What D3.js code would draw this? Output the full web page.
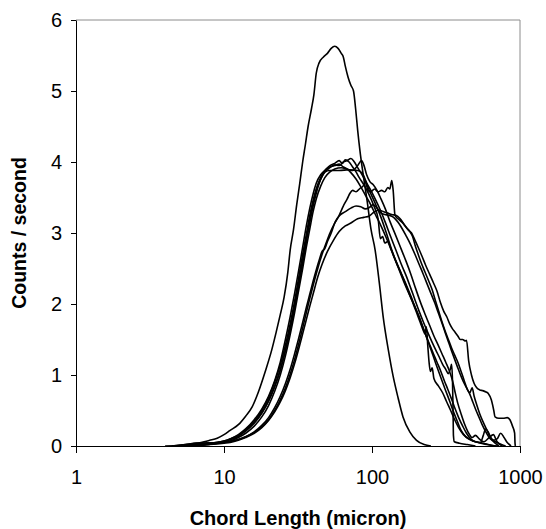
<!DOCTYPE html>
<html>
<head>
<meta charset="utf-8">
<script src="https://cdn.jsdelivr.net/npm/d3@7"></script>
<style>
  body { margin: 0; background: #fff; }
  svg { display: block; font-family: "Liberation Sans", Arial, sans-serif; }
</style>
</head>
<body>
<div id="chart"></div>
<script>
// chord length (micron), counts / second
const run1 = [[4,0],[5,0.01],[6,0.03],[7,0.05],[8,0.08],[9,0.11],[10,0.16],[11,0.22],[12.5,0.3],[14,0.42],[15.5,0.55],[17,0.75],[19,1.05],[21,1.35],[22.5,1.6],[24,1.85],[25.5,2.1],[27,2.45],[28,2.76],[29.5,3.05],[31,3.4],[32.5,3.7],[34,4.0],[35.5,4.25],[37,4.5],[39,4.75],[40.5,4.95],[42,5.25],[44,5.4],[47,5.48],[50,5.53],[53,5.6],[56,5.63],[59,5.6],[62,5.53],[64,5.48],[66,5.35],[69,5.19],[72,5.08],[75,5.0],[77.5,4.75],[80,4.45],[83,4.15],[86,3.91],[93,3.43],[98.5,3.05],[105,2.76],[112,2.3],[119,1.82],[129,1.35],[139,0.98],[150,0.68],[162,0.41],[180,0.2],[200,0.08],[225,0.02],[250,0]];

const run2 = [[5,0],[6,0.02],[7,0.03],[8,0.04],[9,0.05],[10,0.06],[11,0.09],[12.5,0.14],[14,0.22],[16,0.33],[18,0.47],[20,0.64],[22,0.84],[24,1.07],[26,1.35],[28,1.65],[30,1.95],[32,2.27],[34,2.58],[36,2.88],[38,3.15],[40,3.38],[42,3.56],[44,3.7],[46,3.8],[48,3.86],[52,3.88],[60,3.88],[70,3.89],[80,3.88],[86,3.84],[95,3.62],[105,3.42],[115,3.22],[125,3.0],[135,2.78],[150,2.52],[165,2.3],[180,2.12],[198,1.93],[215,1.74],[232,1.55],[250,1.36],[270,1.16],[290,0.98],[312,0.8],[335,0.63],[357,0.47],[380,0.33],[400,0.22],[430,0.13],[480,0.07],[560,0.04],[640,0.01],[720,0]];

const run3 = [[4.5,0],[5.5,0.02],[6.5,0.04],[7.5,0.04],[9,0.05],[10,0.07],[11,0.1],[12.5,0.16],[14,0.24],[16,0.37],[18,0.52],[20,0.7],[22,0.92],[24,1.18],[26,1.5],[28,1.82],[30,2.15],[32,2.48],[34,2.8],[36,3.1],[38,3.35],[40,3.55],[42,3.7],[45,3.82],[48,3.88],[52,3.95],[56,3.98],[60,4.02],[63,3.98],[66,4.03],[70,4.0],[74,3.93],[78,3.86],[82,3.78],[88,3.68],[95,3.55],[103,3.38],[110,3.2],[114,2.92],[118,2.95],[122,2.86],[128,2.88],[134,2.78],[142,2.64],[155,2.46],[167,2.3],[178,2.15],[190,2.0],[200,1.88],[210,1.76],[220,1.65],[228,1.58],[233,1.68],[238,1.42],[243,1.18],[248,1.05],[255,1.1],[262,0.95],[280,0.85],[300,0.75],[320,0.62],[340,0.5],[360,0.38],[385,0.26],[415,0.16],[460,0.09],[520,0.05],[600,0.02],[670,0]];

const run4 = [[5,0],[6,0.02],[7,0.03],[8,0.04],[9,0.05],[10,0.06],[11,0.09],[12.5,0.14],[14,0.21],[16,0.32],[18,0.46],[20,0.63],[22,0.84],[24,1.07],[26,1.35],[28,1.65],[30,1.97],[32,2.3],[34,2.62],[36,2.92],[38,3.2],[40,3.42],[42,3.6],[45,3.76],[48,3.86],[52,3.92],[56,3.96],[60,3.95],[64,4.0],[68,4.02],[72,4.05],[76,4.0],[80,3.92],[84,3.85],[90,3.74],[97,3.62],[105,3.48],[114,3.32],[123,3.15],[133,2.96],[145,2.76],[157,2.57],[170,2.4],[183,2.22],[195,2.06],[208,1.9],[222,1.75],[238,1.6],[255,1.46],[270,1.35],[285,1.25],[300,1.15],[315,1.08],[328,1.02],[338,1.08],[345,1.15],[350,0.9],[353,0.5],[355,0.15],[360,0.06],[390,0.04],[440,0.02],[500,0]];

const run5 = [[5,0],[6,0.01],[7,0.02],[8,0.03],[9,0.04],[10,0.05],[11,0.07],[12.5,0.12],[14,0.18],[16,0.28],[18,0.41],[20,0.57],[22,0.77],[24,1.0],[26,1.27],[28,1.57],[30,1.88],[32,2.2],[34,2.5],[36,2.8],[38,3.06],[40,3.3],[42,3.48],[45,3.66],[48,3.78],[52,3.86],[56,3.9],[62,3.92],[68,3.9],[74,3.88],[80,3.95],[85,4.02],[88,3.96],[92,3.82],[97,3.72],[102,3.68],[108,3.6],[115,3.48],[123,3.34],[133,3.15],[145,2.96],[157,2.78],[170,2.6],[183,2.42],[197,2.22],[212,2.03],[228,1.86],[245,1.7],[262,1.55],[280,1.42],[297,1.3],[315,1.18],[333,1.06],[350,0.92],[365,0.75],[380,0.6],[400,0.45],[420,0.32],[445,0.2],[475,0.12],[500,0.15],[530,0.1],[570,0.06],[620,0.12],[660,0.16],[700,0.06],[760,0]];

const run6 = [[5,0],[6,0.02],[7,0.03],[8,0.04],[9,0.05],[10,0.07],[11,0.1],[12.5,0.15],[14,0.23],[16,0.35],[18,0.5],[20,0.68],[22,0.9],[24,1.14],[26,1.42],[28,1.72],[30,2.04],[32,2.38],[34,2.7],[36,2.98],[38,3.25],[40,3.46],[42,3.62],[45,3.78],[48,3.88],[52,3.93],[56,3.95],[60,3.97],[64,3.93],[68,3.9],[72,3.85],[78,3.76],[84,3.65],[91,3.52],[98,3.4],[106,3.25],[115,3.1],[125,2.93],[135,2.76],[147,2.58],[160,2.4],[172,2.25],[184,2.1],[196,1.95],[208,1.82],[220,1.68],[232,1.55],[245,1.43],[260,1.3],[275,1.18],[292,1.05],[308,0.92],[325,0.8],[345,0.66],[365,0.52],[385,0.4],[410,0.28],[435,0.18],[465,0.1],[500,0.06],[540,0.05],[565,0.15],[585,0.24],[610,0.2],[640,0.1],[680,0.04],[720,0]];

const run7 = [[5,0],[6,0.01],[7,0.02],[8,0.03],[9,0.04],[10,0.05],[11,0.06],[12.5,0.09],[14,0.13],[16,0.2],[18,0.29],[20,0.4],[22,0.54],[24,0.7],[26,0.88],[28,1.08],[30,1.3],[32,1.52],[34,1.74],[36,1.95],[38,2.14],[40,2.32],[42,2.48],[44,2.62],[46,2.74],[48,2.78],[50,2.88],[53,3.0],[56,3.14],[60,3.25],[64,3.38],[68,3.48],[71,3.56],[74,3.6],[78,3.58],[83,3.63],[87,3.66],[90,3.72],[94,3.6],[98,3.58],[104,3.62],[110,3.58],[116,3.6],[122,3.58],[128,3.64],[132,3.62],[136,3.74],[139,3.6],[143,3.25],[150,3.2],[160,3.15],[170,3.08],[180,3.02],[188,2.95],[196,2.82],[205,2.7],[215,2.58],[228,2.45],[242,2.32],[255,2.2],[268,2.05],[282,1.9],[297,1.75],[312,1.62],[328,1.5],[345,1.38],[362,1.28],[380,1.18],[400,1.05],[420,0.92],[440,0.8],[458,0.75],[475,0.82],[490,0.7],[510,0.58],[535,0.45],[560,0.35],[590,0.25],[620,0.15],[660,0.08],[700,0.05],[750,0.02],[800,0]];

const run8 = [[5,0],[6,0.01],[7,0.02],[8,0.03],[9,0.04],[10,0.05],[11,0.06],[12.5,0.09],[14,0.13],[16,0.19],[18,0.27],[20,0.37],[22,0.5],[24,0.65],[26,0.82],[28,1.01],[30,1.22],[32,1.44],[34,1.66],[36,1.88],[38,2.08],[40,2.26],[43,2.5],[46,2.7],[49,2.86],[52,3.0],[56,3.14],[60,3.24],[66,3.3],[72,3.35],[78,3.38],[84,3.37],[90,3.34],[96,3.36],[102,3.4],[108,3.35],[115,3.28],[122,3.26],[130,3.25],[140,3.22],[150,3.15],[160,3.06],[170,2.96],[182,2.84],[195,2.7],[208,2.56],[222,2.42],[236,2.28],[250,2.15],[265,2.02],[280,1.88],[296,1.74],[312,1.6],[328,1.47],[345,1.34],[362,1.22],[380,1.1],[400,0.98],[420,0.88],[440,0.8],[460,0.72],[480,0.62],[505,0.5],[530,0.4],[555,0.3],[580,0.22],[610,0.14],[650,0.08],[700,0.1],[740,0.18],[780,0.12],[820,0.05],[870,0]];

const run9 = [[5,0],[6,0.01],[7,0.01],[8,0.02],[9,0.03],[10,0.04],[11,0.05],[12.5,0.08],[14,0.12],[16,0.18],[18,0.26],[20,0.36],[22,0.48],[24,0.62],[26,0.78],[28,0.96],[30,1.16],[32,1.37],[34,1.58],[36,1.78],[38,1.97],[40,2.14],[43,2.38],[46,2.56],[50,2.74],[55,2.9],[60,3.02],[66,3.1],[72,3.14],[80,3.2],[88,3.22],[96,3.24],[104,3.3],[112,3.32],[120,3.3],[128,3.28],[136,3.26],[145,3.25],[155,3.2],[165,3.12],[175,3.05],[185,3.0],[195,2.9],[205,2.8],[217,2.68],[230,2.55],[245,2.42],[260,2.3],[275,2.18],[290,2.02],[305,1.9],[320,1.82],[335,1.72],[350,1.65],[365,1.6],[380,1.55],[395,1.5],[410,1.5],[425,1.48],[435,1.49],[450,1.2],[470,1.0],[490,0.88],[510,0.82],[535,0.79],[560,0.78],[590,0.76],[610,0.74],[640,0.65],[665,0.5],[678,0.41],[720,0.39],[770,0.39],[820,0.4],[855,0.37],[890,0.28],[920,0.18],[925,0.05],[930,0]];

const runs = [run1, run2, run3, run4, run5, run6, run7, run8, run9];
const xTicks = [1, 10, 100, 1000];
const yTicks = [0, 1, 2, 3, 4, 5, 6];

const width = 546, height = 529;
const margin = { top: 20, right: 26, bottom: 83, left: 76 };

const svg = d3.select("#chart").append("svg")
  .attr("width", width)
  .attr("height", height);

const x = d3.scaleLog()
  .domain([1, 1000])
  .range([margin.left, width - margin.right]);

const y = d3.scaleLinear()
  .domain([0, 6])
  .range([height - margin.bottom, margin.top]);

// plot area border (top and right in grey)
svg.append("path")
  .attr("d", `M${x(1)},${y(6)}H${x(1000)}V${y(0)}`)
  .attr("fill", "none")
  .attr("stroke", "#8c8c8c")
  .attr("stroke-width", 1);

const line = d3.line()
  .x(d => x(d[0]))
  .y(d => y(d[1]))
  .curve(d3.curveMonotoneX);

svg.append("g")
  .selectAll("path")
  .data(runs)
  .join("path")
  .attr("d", line)
  .attr("fill", "none")
  .attr("stroke", "#000")
  .attr("stroke-width", 1.6)
  .attr("stroke-linejoin", "round");

// axes
svg.append("g")
  .attr("transform", `translate(0,${y(0)})`)
  .call(d3.axisBottom(x).tickValues(xTicks).tickFormat(d3.format("d"))
    .tickSize(7).tickSizeOuter(0).tickPadding(17));

svg.append("g")
  .attr("transform", `translate(${x(1)},0)`)
  .call(d3.axisLeft(y).tickValues(yTicks).tickFormat(d3.format("d"))
    .tickSize(5).tickSizeOuter(0).tickPadding(9));

svg.selectAll(".tick text")
  .attr("font-family", "'Liberation Sans', Arial, sans-serif")
  .attr("font-size", 20)
  .attr("fill", "#000");
svg.selectAll(".domain, .tick line").attr("stroke", "#000");

svg.append("text")
  .attr("x", (x(1) + x(1000)) / 2)
  .attr("y", 525)
  .attr("text-anchor", "middle")
  .attr("font-size", 20)
  .attr("font-weight", "bold")
  .text("Chord Length (micron)");

svg.append("text")
  .attr("transform", `translate(26,${(y(0) + y(6)) / 2}) rotate(-90)`)
  .attr("text-anchor", "middle")
  .attr("font-size", 19.5)
  .attr("font-weight", "bold")
  .text("Counts / second");
</script>
</body>
</html>
